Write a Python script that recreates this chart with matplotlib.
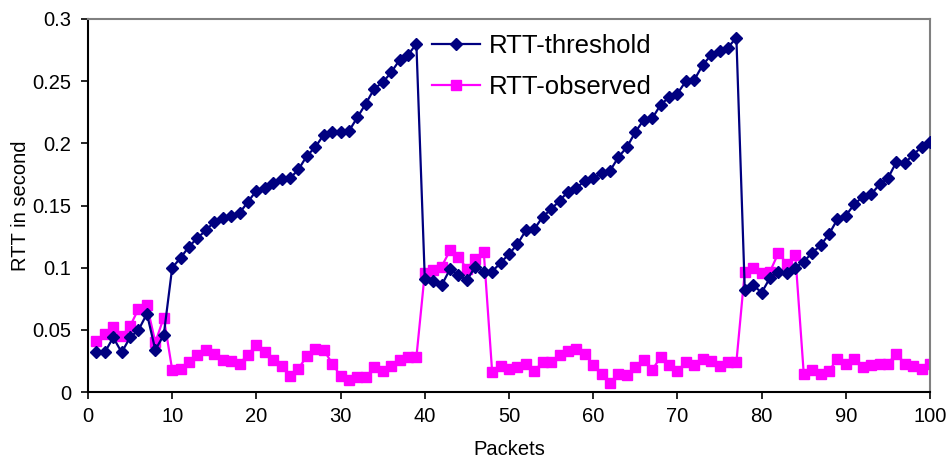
import matplotlib
matplotlib.use("Agg")
import matplotlib.pyplot as plt

plt.rcParams['font.family'] = ['Liberation Sans', 'DejaVu Sans']

packets = list(range(1, 101))

rtt_threshold = [
    0.032, 0.032, 0.044, 0.032, 0.044, 0.050, 0.063, 0.034, 0.046, 0.100,
    0.108, 0.117, 0.124, 0.130, 0.137, 0.140, 0.142, 0.144, 0.153, 0.162,
    0.164, 0.168, 0.171, 0.172, 0.179, 0.190, 0.197, 0.207, 0.209, 0.209,
    0.210, 0.221, 0.232, 0.244, 0.249, 0.257, 0.267, 0.271, 0.280, 0.091,
    0.089, 0.086, 0.099, 0.094, 0.090, 0.101, 0.097, 0.097, 0.104, 0.111,
    0.119, 0.130, 0.131, 0.141, 0.147, 0.154, 0.161, 0.164, 0.170, 0.172,
    0.176, 0.178, 0.189, 0.197, 0.209, 0.219, 0.220, 0.231, 0.237, 0.240,
    0.250, 0.251, 0.263, 0.271, 0.274, 0.277, 0.285, 0.082, 0.086, 0.080,
    0.092, 0.097, 0.096, 0.100, 0.105, 0.112, 0.118, 0.127, 0.139, 0.142,
    0.151, 0.157, 0.159, 0.167, 0.172, 0.185, 0.184, 0.191, 0.197, 0.201,
]

rtt_observed = [
    0.041, 0.047, 0.052, 0.045, 0.053, 0.067, 0.070, 0.040, 0.060, 0.018,
    0.019, 0.024, 0.030, 0.034, 0.031, 0.026, 0.025, 0.023, 0.030, 0.038,
    0.032, 0.026, 0.021, 0.013, 0.019, 0.029, 0.035, 0.034, 0.023, 0.013,
    0.010, 0.012, 0.012, 0.020, 0.017, 0.021, 0.026, 0.028, 0.028, 0.096,
    0.098, 0.101, 0.114, 0.109, 0.099, 0.107, 0.113, 0.016, 0.021, 0.019,
    0.020, 0.023, 0.017, 0.024, 0.024, 0.030, 0.033, 0.035, 0.031, 0.022,
    0.015, 0.007, 0.015, 0.014, 0.020, 0.026, 0.018, 0.028, 0.022, 0.017,
    0.024, 0.022, 0.027, 0.025, 0.021, 0.024, 0.024, 0.097, 0.100, 0.096,
    0.097, 0.112, 0.103, 0.110, 0.015, 0.018, 0.015, 0.017, 0.027, 0.023,
    0.027, 0.020, 0.022, 0.023, 0.023, 0.031, 0.023, 0.021, 0.019, 0.023,
]

x_ticks = list(range(0, 101, 10))
y_ticks = [0, 0.05, 0.1, 0.15, 0.2, 0.25, 0.3]
y_tick_labels = ["0", "0.05", "0.1", "0.15", "0.2", "0.25", "0.3"]

fig = plt.figure(figsize=(9.5, 4.63), dpi=100)
ax = fig.add_axes([0.0926, 0.153, 0.8864, 0.806])

ax.plot(packets, rtt_threshold, color="#000080", lw=1.6, marker="D",
        markersize=5.8, label="RTT-threshold", zorder=3)
ax.plot(packets, rtt_observed, color="#FF00FF", lw=1.6, marker="s",
        markersize=7, label="RTT-observed", zorder=2)

ax.set_xlim(0, 100)
ax.set_ylim(0, 0.3)
ax.set_xticks(x_ticks)
ax.set_yticks(y_ticks)
ax.set_yticklabels(y_tick_labels)
ax.tick_params(direction="out", length=5, width=1.2, labelsize=14.5)
ax.tick_params(axis="y", pad=7)
ax.tick_params(axis="x", pad=6)

for side in ["left", "bottom"]:
    ax.spines[side].set_color("black")
    ax.spines[side].set_linewidth(1.5)
for side in ["top", "right"]:
    ax.spines[side].set_color("#808080")
    ax.spines[side].set_linewidth(1.5)

ax.set_xlabel("Packets", fontsize=14.5, labelpad=10)
ax.set_ylabel("RTT in second", fontsize=14.5, labelpad=2)

ax.legend(loc="upper left", bbox_to_anchor=(0.408, 0.96), frameon=False,
          fontsize=18.5, handlelength=1.9, handletextpad=0.35,
          borderpad=0, borderaxespad=0, labelspacing=0.65)

fig.savefig("out.png", dpi=100)
